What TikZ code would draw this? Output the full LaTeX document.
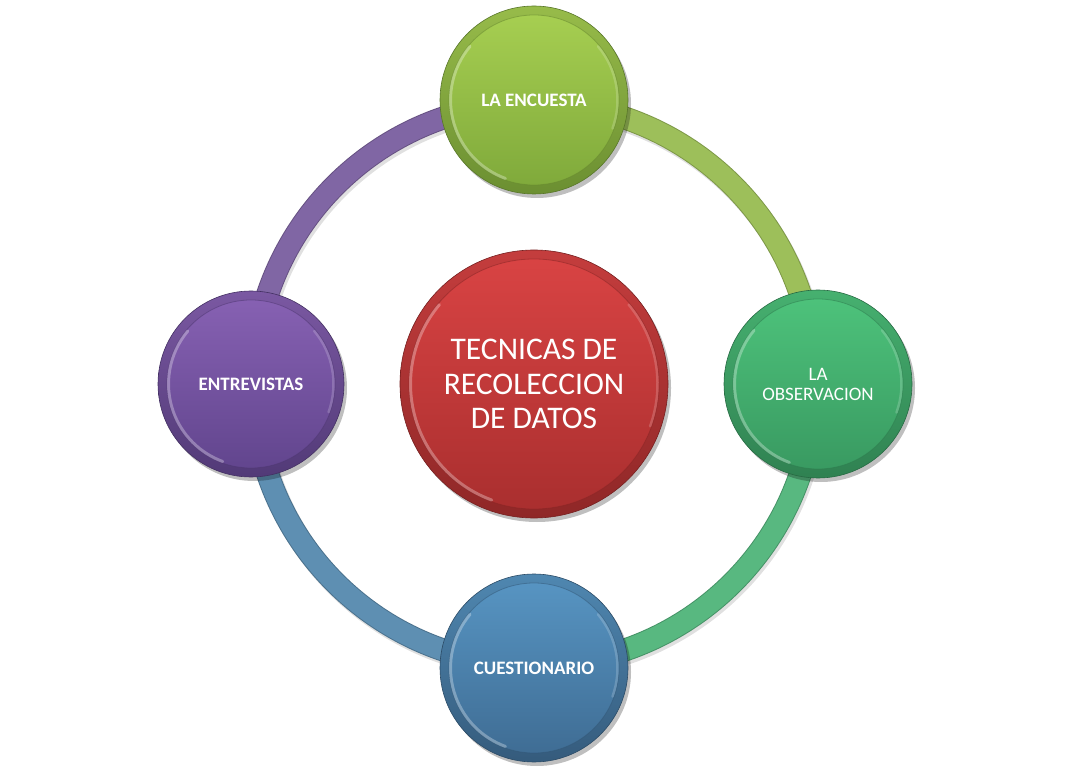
\documentclass[tikz,border=0pt]{standalone}
\usepackage{fontspec}
\setmainfont{Carlito}
\usetikzlibrary{shadows,calc}
\definecolor{limeL}{HTML}{A8D052}
\definecolor{limeD}{HTML}{7EA83A}
\definecolor{limeR}{HTML}{9DBF5A}
\definecolor{grnL}{HTML}{4EC47C}
\definecolor{grnD}{HTML}{389860}
\definecolor{grnR}{HTML}{58B880}
\definecolor{bluL}{HTML}{5896C4}
\definecolor{bluD}{HTML}{3E6B92}
\definecolor{bluR}{HTML}{5E8FB2}
\definecolor{purL}{HTML}{8862B4}
\definecolor{purD}{HTML}{60448C}
\definecolor{purR}{HTML}{8066A4}
\definecolor{redL}{HTML}{DA4444}
\definecolor{redD}{HTML}{A82E2E}
\tikzset{
  ringshadow/.style={line width=23pt, black, opacity=0.12},
  ringedge/.style={line width=23pt, #1!80!black},
  ringfill/.style={line width=21pt, #1},
  bubble/.style n args={3}{circle, minimum size=#3, inner sep=0pt, text=white,
    align=center, top color=#1!90!black, bottom color=#2!85!black,
    draw=#2!70!black, line width=0.6pt,
    drop shadow={shadow xshift=3pt, shadow yshift=-4pt, opacity=0.25, fill=black},
    path picture={
      \shade[top color=#1, bottom color=#2]
        (path picture bounding box.center) circle[radius=#3/2-9pt];
      \draw[#2!80!black, line width=0.8pt, opacity=0.5]
        (path picture bounding box.center) circle[radius=#3/2-9pt];
      \draw[white, opacity=0.3, line width=3pt, line cap=round]
        ($(path picture bounding box.center)+(140:#3/2-10.5pt)$)
        arc[start angle=140, end angle=250, radius=#3/2-10.5pt];
      \draw[white, opacity=0.18, line width=2.5pt, line cap=round]
        ($(path picture bounding box.center)+(-20:#3/2-10.5pt)$)
        arc[start angle=-20, end angle=40, radius=#3/2-10.5pt];
    }},
  small/.style={font=\fontsize{19}{21}\selectfont\bfseries},
  smallreg/.style={font=\fontsize{19}{20}\selectfont},
  big/.style={font=\fontsize{31.5}{34.5}\selectfont}
}
\begin{document}
\begin{tikzpicture}[x=1pt,y=1pt]
\useasboundingbox (0,0) rectangle (1067,777);
\coordinate (c) at (534,393);
% ring segments
\foreach \a/\b/\col in {90/0/limeR, 0/-90/grnR, -90/-180/bluR, 180/90/purR}{
  \draw[ringshadow] ($(c)+(\a:281)+(2,-3)$) arc[start angle=\a, end angle=\b, radius=281];
  \draw[ringedge=\col] ($(c)+(\a:281)$) arc[start angle=\a, end angle=\b, radius=281];
  \draw[ringfill=\col] ($(c)+(\a:281)$) arc[start angle=\a, end angle=\b, radius=281];
}
% nodes
\node[bubble={redL}{redD}{268pt}, big] (center) at (c) {TECNICAS DE\\RECOLECCION\\DE DATOS};
\node[bubble={limeL}{limeD}{188pt}, small] (top) at ($(c)+(90:284)$) {LA ENCUESTA};
\node[bubble={grnL}{grnD}{188pt}, smallreg] (right) at ($(c)+(0:284)$) {LA\\OBSERVACION};
\node[bubble={bluL}{bluD}{188pt}, small] (bottom) at ($(c)+(-90:284)$) {CUESTIONARIO};
\node[bubble={purL}{purD}{186pt}, small] (left) at ($(c)+(180:283)$) {ENTREVISTAS};
\end{tikzpicture}
\end{document}
